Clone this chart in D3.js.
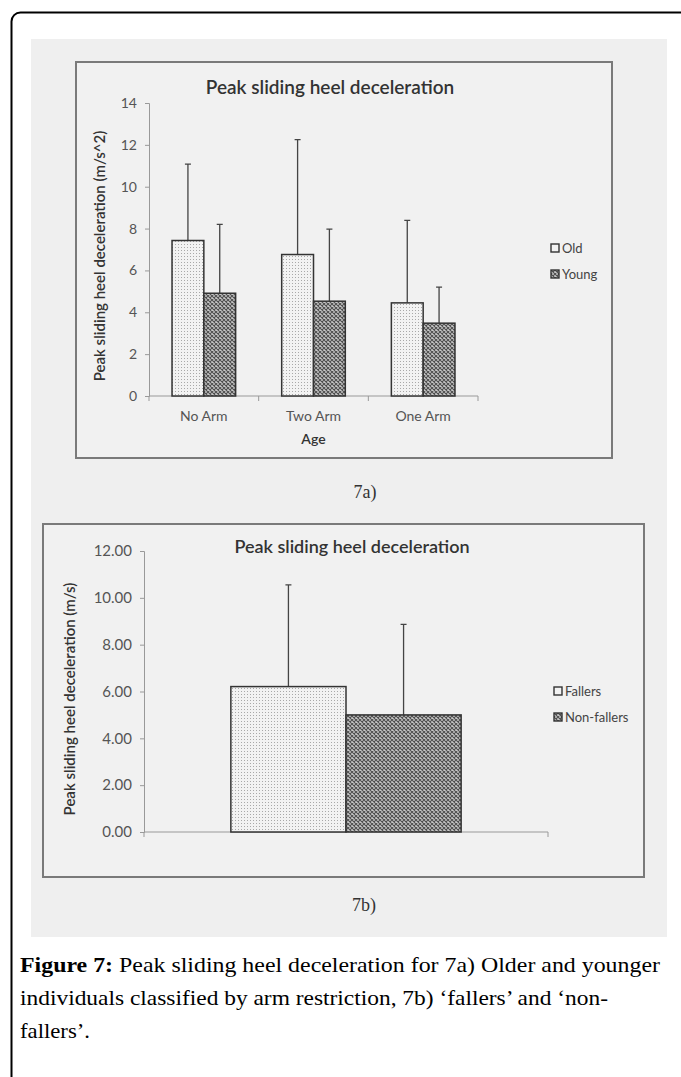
<!DOCTYPE html>
<html>
<head>
<meta charset="utf-8">
<script src="https://cdn.jsdelivr.net/npm/d3@7"></script>
<style>
  body { margin: 0; background: #fff; }
  svg { display: block; }
</style>
</head>
<body>
<div id="fig"></div>
<script>
// values
const armGroups = ["No Arm", "Two Arm", "One Arm"];
const ageSeries = ["Old", "Young"];
const oldMean = [7.43, 6.76, 4.45];
const oldSd = [3.65, 5.49, 3.94];
const youngMean = [4.91, 4.53, 3.48];
const youngSd = [3.29, 3.44, 1.72];
const ticksA = [0, 2, 4, 6, 8, 10, 12, 14];

const fallSeries = ["Fallers", "Non-fallers"];
const fallMean = [6.21, 5.0];
const fallSd = [4.34, 3.87];
const ticksB = [0, 2, 4, 6, 8, 10, 12];

const W = 681, H = 1077;
const svg = d3.select("#fig").append("svg").attr("width", W).attr("height", H);

// patterns for the two fills
const defs = svg.append("defs");
const dots = defs.append("pattern").attr("id", "dots")
  .attr("patternUnits", "userSpaceOnUse").attr("width", 3).attr("height", 3);
dots.append("rect").attr("width", 3).attr("height", 3).attr("fill", "#f2f2f2");
dots.append("rect").attr("x", 1).attr("y", 1).attr("width", 1).attr("height", 1).attr("fill", "#a8a8a8");

const hatch = defs.append("pattern").attr("id", "hatch")
  .attr("patternUnits", "userSpaceOnUse").attr("width", 4).attr("height", 4);
hatch.append("rect").attr("width", 4).attr("height", 4).attr("fill", "#c8c8c8");
hatch.append("path").attr("d", "M0,0 L4,4 M4,0 L0,4").attr("stroke", "#505050").attr("stroke-width", 1.1);

// outer frame of the page
svg.append("rect").attr("x", 11.5).attr("y", 12.5).attr("width", 700).attr("height", 1100)
  .attr("rx", 9).attr("fill", "none").attr("stroke", "#000").attr("stroke-width", 2);

// scanned area
svg.append("rect").attr("x", 31).attr("y", 39).attr("width", 636).attr("height", 898).attr("fill", "#efefef");

const sans = "Lato, 'Open Sans', sans-serif";
const serif = "'Liberation Serif', 'DejaVu Serif', serif";

function drawChart(o) {
  const g = svg.append("g");
  g.append("rect").attr("x", o.box[0]).attr("y", o.box[1])
    .attr("width", o.box[2] - o.box[0]).attr("height", o.box[3] - o.box[1])
    .attr("fill", "#f1f1f1").attr("stroke", "#7a7a7a").attr("stroke-width", 2);

  const y = d3.scaleLinear().domain(o.yDomain).range([o.y0, o.yTop]);
  const x = d3.scaleBand().domain(o.groups).range([o.x0, o.x1])
    .paddingInner(o.pad).paddingOuter(o.pad / 2);
  const xs = d3.scaleBand().domain(o.series).range([0, x.bandwidth()]);

  // y axis
  const yAxis = g.append("g").attr("transform", "translate(" + o.x0 + ",0)")
    .call(d3.axisLeft(y).tickValues(o.ticks).tickSize(4).tickPadding(8).tickFormat(o.fmt));
  yAxis.select(".domain").attr("stroke", "#999");
  yAxis.selectAll(".tick line").attr("stroke", "#999");
  yAxis.selectAll("text").attr("fill", "#555").style("font-family", sans).style("font-size", o.tickSize + "px");

  // x axis: ticks between categories
  const edges = o.groups.map(d => x(d) - x.step() * x.paddingInner() / 2).concat([o.x1]);
  g.append("line").attr("x1", o.x0).attr("x2", o.x1).attr("y1", o.y0).attr("y2", o.y0)
    .attr("stroke", "#999");
  g.selectAll(".xt").data(edges).enter().append("line")
    .attr("x1", d => d).attr("x2", d => d).attr("y1", o.y0).attr("y2", o.y0 + 5)
    .attr("stroke", "#999");
  if (o.showGroupLabels) {
    g.selectAll(".xl").data(o.groups).enter().append("text")
      .attr("x", d => x(d) + x.bandwidth() / 2).attr("y", o.y0 + 25)
      .attr("text-anchor", "middle").attr("fill", "#555")
      .style("font-family", sans).style("font-size", "14px").text(d => d);
  }

  // bars
  o.series.forEach(function (s, si) {
    const rows = o.groups.map((grp, i) => ({ grp: grp, m: o.means[si][i], sd: o.sds[si][i] }));
    g.selectAll(".err" + si).data(rows).enter().append("path")
      .attr("d", d => {
        const cx = x(d.grp) + xs(s) + xs.bandwidth() / 2;
        return "M" + cx + "," + y(d.m) + "V" + y(d.m + d.sd) + "M" + (cx - 3) + "," + y(d.m + d.sd) + "H" + (cx + 3);
      })
      .attr("stroke", "#444").attr("stroke-width", 1.3).attr("fill", "none");
    g.selectAll(".bar" + si).data(rows).enter().append("rect")
      .attr("x", d => x(d.grp) + xs(s)).attr("y", d => y(d.m))
      .attr("width", xs.bandwidth()).attr("height", d => y(0) - y(d.m))
      .attr("fill", si === 0 ? "url(#dots)" : "url(#hatch)")
      .attr("stroke", "#333").attr("stroke-width", 1.5);
  });

  // title
  g.append("text").attr("x", o.titleX).attr("y", o.titleY).attr("text-anchor", "middle")
    .attr("fill", "#333").style("font-family", sans).style("font-size", o.titleSize + "px").style("font-weight", 600)
    .text("Peak sliding heel deceleration");

  // y title
  g.append("text").attr("transform", "translate(" + o.yTitle[0] + "," + o.yTitle[1] + ")rotate(-90)")
    .attr("text-anchor", "middle").attr("fill", "#333")
    .style("font-family", sans).style("font-size", o.yTitleSize + "px").style("font-weight", 600)
    .text(o.yLabel);

  if (o.xLabel) {
    g.append("text").attr("x", (o.x0 + o.x1) / 2).attr("y", o.y0 + 48).attr("text-anchor", "middle")
      .attr("fill", "#333").style("font-family", sans).style("font-size", "14px").style("font-weight", 600)
      .text(o.xLabel);
  }

  // legend
  const lg = g.selectAll(".lg").data(o.series).enter().append("g")
    .attr("transform", (d, i) => "translate(" + o.legend[0] + "," + (o.legend[1] + i * o.legendGap) + ")");
  lg.append("rect").attr("x", 0).attr("y", -4).attr("width", 8).attr("height", 8)
    .attr("fill", (d, i) => i === 0 ? "#f2f2f2" : "url(#hatch)").attr("stroke", "#333").attr("stroke-width", 1.4);
  lg.append("text").attr("x", 11).attr("y", 0).attr("dy", "0.35em").attr("fill", "#444")
    .style("font-family", sans).style("font-size", o.legendSize + "px").text(d => d);
}

drawChart({
  box: [76, 62, 612, 458],
  groups: armGroups, series: ageSeries,
  means: [oldMean, youngMean], sds: [oldSd, youngSd],
  yDomain: [0, 14], ticks: ticksA, fmt: d3.format("d"), tickSize: 14,
  x0: 149, x1: 478, y0: 396, yTop: 103, pad: 0.42,
  showGroupLabels: true, xLabel: "Age",
  titleX: 330, titleY: 94, titleSize: 19,
  yTitle: [105, 256], yTitleSize: 15, yLabel: "Peak sliding heel deceleration  (m/s^2)",
  legend: [551, 248], legendGap: 26, legendSize: 13
});

drawChart({
  box: [43, 524, 644, 877],
  groups: ["all"], series: fallSeries,
  means: [[fallMean[0]], [fallMean[1]]], sds: [[fallSd[0]], [fallSd[1]]],
  yDomain: [0, 12], ticks: ticksB, fmt: d3.format(".2f"), tickSize: 15,
  x0: 144, x1: 548, y0: 832, yTop: 551, pad: 0.43,
  showGroupLabels: false, xLabel: null,
  titleX: 352, titleY: 553, titleSize: 18,
  yTitle: [75, 699], yTitleSize: 15, yLabel: "Peak sliding heel deceleration (m/s)",
  legend: [554, 691], legendGap: 26, legendSize: 13
});

// panel labels
svg.append("text").attr("x", 365).attr("y", 498).attr("text-anchor", "middle").attr("fill", "#333")
  .style("font-family", serif).style("font-size", "18px").text("7a)");
svg.append("text").attr("x", 364).attr("y", 911).attr("text-anchor", "middle").attr("fill", "#333")
  .style("font-family", serif).style("font-size", "18px").text("7b)");

// caption
const cap = svg.append("g").style("font-family", serif).style("font-size", "22px").attr("fill", "#000");
const l1 = cap.append("text").attr("x", 20).attr("y", 972)
  .attr("textLength", 640).attr("lengthAdjust", "spacingAndGlyphs");
l1.append("tspan").style("font-weight", "bold").text("Figure 7:");
l1.append("tspan").text(" Peak sliding heel deceleration for 7a) Older and younger");
cap.append("text").attr("x", 20).attr("y", 1005)
  .attr("textLength", 588).attr("lengthAdjust", "spacingAndGlyphs")
  .text("individuals classified by arm restriction, 7b) \u2018fallers\u2019 and \u2018non-");
cap.append("text").attr("x", 20).attr("y", 1038)
  .attr("textLength", 70).attr("lengthAdjust", "spacingAndGlyphs").text("fallers\u2019.");
</script>
</body>
</html>
